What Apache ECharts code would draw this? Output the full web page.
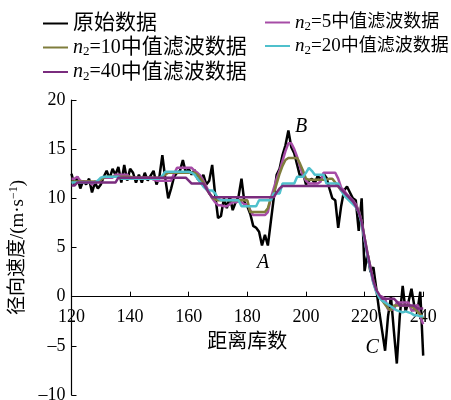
<!DOCTYPE html>
<html><head><meta charset="utf-8">
<script src="https://cdn.jsdelivr.net/npm/echarts@6/dist/echarts.min.js"></script>
<style>html,body{margin:0;padding:0;background:#fff}#c{width:451px;height:400px}</style>
</head><body><div id="c"></div>
<script>
const gates = [120,121,122,123,124,125,126,127,128,129,130,131,132,133,134,135,136,137,138,139,
140,141,142,143,144,145,146,147,148,149,150,151,152,153,154,155,156,157,158,159,
160,161,162,163,164,165,166,167,168,169,170,171,172,173,174,175,176,177,178,179,
180,181,182,183,184,185,186,187,188,189,190,191,192,193,194,195,196,197,198,199,
200,201,202,203,204,205,206,207,208,209,210,211,212,213,214,215,216,217,218,219,
220,221,222,223,224,225,226,227,228,229,230,231,232,233,234,235,236,237,238,239,240];

const rawData = [12.5,11.3,12.2,11.0,11.8,11.4,12.0,10.6,11.6,11.0,
11.4,12.2,12.8,12.0,13.0,12.4,13.2,11.6,13.4,11.8,
13.0,12.6,11.6,12.4,11.6,12.6,11.8,12.3,12.8,11.4,
12.2,14.4,12.0,10.0,11.0,12.2,12.6,12.8,13.9,12.6,
13.0,12.4,12.9,12.0,11.7,12.4,11.4,11.8,13.4,10.4,
8.0,8.2,10.0,9.0,10.2,8.8,9.6,10.2,12.0,9.6,
9.2,8.4,7.2,7.0,6.6,5.2,6.3,5.2,7.6,10.0,
12.4,13.0,14.4,15.4,16.9,15.2,14.6,13.4,12.2,12.6,
11.4,11.8,12.0,11.5,12.3,11.9,12.5,12.1,11.0,10.0,
9.8,7.0,9.2,10.8,11.2,10.6,10.0,9.8,6.7,10.0,
2.6,4.4,2.5,3.0,0.8,-1.5,-3.5,-5.5,-2.0,0.0,
-3.5,-6.8,-2.0,1.1,-1.5,-0.5,0.8,-1.0,-1.5,0.5,-6.0];

const n5Data = [12.0,12.0,12.2,11.8,11.7,11.7,11.7,11.4,11.7,11.7,
11.9,12.1,12.1,12.1,12.1,12.4,12.4,12.4,12.4,12.4,
12.1,12.1,12.1,12.1,12.1,12.1,12.1,12.1,11.9,11.8,
11.8,11.8,11.8,11.8,11.8,12.5,13.1,13.1,13.1,13.1,
13.1,13.1,12.8,12.6,12.3,11.8,11.2,10.6,10.0,9.6,
9.3,9.3,9.2,9.2,9.4,9.6,9.6,9.7,9.6,9.4,
9.4,8.8,8.3,8.3,8.3,8.3,8.3,8.6,10.0,11.0,
12.0,12.8,13.8,14.8,15.6,15.6,15.0,14.2,13.2,12.3,
11.8,11.5,11.5,11.5,11.5,11.7,12.6,12.6,12.6,12.6,
12.6,12.0,11.1,10.8,10.4,10.1,9.8,9.4,8.8,7.6,
5.8,4.2,2.8,1.4,0.5,0.1,0.0,-0.2,-1.3,-1.3,
-1.3,-0.6,-0.6,-0.6,-0.6,-0.6,-1.4,-1.4,-0.8,-2.0,-2.8];

const n10Data = [11.7,11.7,11.7,11.7,11.7,11.7,11.7,11.7,11.7,11.7,
11.9,12.1,12.2,12.2,12.2,12.2,12.2,12.2,12.2,12.2,
12.2,12.1,12.1,12.1,12.1,12.1,12.1,12.1,12.1,12.1,
12.1,12.2,12.4,12.6,12.6,12.6,12.6,12.6,12.6,12.6,
12.6,12.6,12.6,12.4,12.0,11.6,11.0,10.5,10.1,9.9,
9.8,9.8,9.8,9.8,9.8,9.8,9.8,9.8,9.8,9.8,
9.8,8.6,8.6,8.6,8.6,8.6,8.6,9.0,10.0,10.5,
11.5,12.5,13.3,13.9,14.1,14.1,14.1,14.1,13.5,12.8,
12.0,11.9,11.9,11.9,11.9,11.9,11.9,11.9,12.0,12.0,
11.6,11.2,10.8,10.5,10.2,9.9,9.6,9.2,8.7,7.6,
6.0,4.4,3.0,1.6,0.6,0.0,-0.4,-0.8,-1.2,-1.4,
-0.9,-0.9,-0.9,-0.9,-0.9,-0.9,-1.0,-1.2,-1.5,-1.8,-2.2];

const n20Data = [11.6,11.6,11.6,11.6,11.6,11.6,11.6,11.6,11.6,11.8,
12.1,12.2,12.2,12.2,12.2,12.2,12.2,12.0,12.0,12.0,
12.0,12.0,12.0,12.0,12.0,12.0,12.0,12.0,12.0,12.0,
12.0,12.3,12.7,12.7,12.7,12.7,12.7,12.7,12.7,12.7,
12.7,12.6,12.4,12.0,11.6,11.2,10.9,10.8,10.8,10.5,
10.0,9.8,9.8,9.8,9.8,9.8,9.8,9.8,9.2,9.2,
9.2,9.2,9.2,9.2,9.8,9.8,9.8,9.8,9.8,10.5,
10.5,10.5,11.5,11.5,11.5,11.5,11.5,12.2,12.2,12.2,
12.6,13.1,12.8,12.4,12.4,12.4,12.4,11.5,11.5,11.5,
11.5,11.5,10.8,10.3,10.0,9.7,9.4,9.1,8.6,7.4,
5.8,4.2,2.8,1.4,0.5,-0.1,-0.4,-0.6,-0.8,-1.0,
-1.2,-1.4,-1.5,-1.6,-1.5,-1.6,-1.7,-1.9,-1.9,-2.0,-2.0];

const n40Data = [11.3,11.3,11.6,11.6,11.6,11.6,11.6,11.6,11.6,11.6,
11.6,11.6,11.6,11.6,11.6,11.6,12.1,12.1,12.1,12.1,
12.1,12.1,12.1,12.1,12.1,12.1,12.1,12.1,12.1,12.1,
12.1,12.1,12.1,12.1,12.1,12.1,12.1,12.1,12.1,12.1,
11.8,11.5,11.5,11.5,11.5,11.5,11.0,10.5,10.1,10.1,
10.1,10.1,10.1,10.1,10.1,10.1,10.1,10.1,10.1,10.1,
10.1,10.1,10.1,10.1,10.1,10.1,10.1,10.1,10.1,10.1,
10.6,11.0,11.26,11.26,11.26,11.26,11.26,11.26,11.26,11.26,
11.26,11.26,11.26,11.26,11.26,11.26,11.26,11.26,11.26,11.26,
11.26,11.26,10.9,10.6,10.3,10.0,9.7,9.2,8.6,7.6,
6.0,4.4,3.0,1.6,0.7,0.2,-0.2,-0.2,-0.2,-0.2,
-0.2,-0.5,-0.9,-0.9,-0.9,-0.9,-0.9,-0.9,-1.2,-1.2,-1.2];

const seriesNames = ['原始数据','n2=5中值滤波数据','n2=10中值滤波数据','n2=20中值滤波数据','n2=40中值滤波数据'];
const seriesColors = ['#000000','#A64CA6','#7F7D3C','#4FC0CC','#7A2C7E'];
const xTicks = {min:120, max:240, interval:20};
const yTicks = {min:-10, max:20, interval:5};
const annotations = [
  {label:'A', gate:185.4, value:3.4},
  {label:'B', gate:198.3, value:17.3},
  {label:'C', gate:222.6, value:-5.2}
];

const serif = '"Liberation Serif","Times New Roman","Noto Sans CJK SC",serif';
const mixed = '"Liberation Serif","Noto Sans CJK SC",serif';

function pairs(arr){ return gates.map((g,i)=>[g,arr[i]]); }
const allData = [rawData,n5Data,n10Data,n20Data,n40Data];

const W = 451, H = 400;
const gridBox = {left:71.5, right:27.8, top:100, bottom:5};
const gridH = H - gridBox.top - gridBox.bottom;
// x axis sits on the y = 0 line
const xAxisOffset = -gridH * (0 - yTicks.min) / (yTicks.max - yTicks.min);

function makeRich(cjk, lat){
  return {
    t:{fontSize:cjk,fontFamily:mixed,color:'#000',lineHeight:22},
    l:{fontSize:lat,fontFamily:serif,color:'#000',lineHeight:22},
    i:{fontSize:lat,fontFamily:serif,fontStyle:'italic',color:'#000',lineHeight:22},
    s:{fontSize:13,fontFamily:serif,color:'#000',lineHeight:10,verticalAlign:'bottom'}
  };
}
function legendFmt(name){
  if(name.indexOf('n2')===0){
    const rest = name.slice(2);
    const m = rest.match(/^(=\d+)(.*)$/);
    return '{i|n}{s|2}{l|'+m[1]+'}{t|'+m[2]+'}';
  }
  return '{t|'+name+'}';
}
const legendBase = {
  orient:'vertical', itemGap:3, itemWidth:25, itemHeight:2, icon:'rect',
  formatter:legendFmt, selectedMode:false, padding:0
};

const chart = echarts.init(document.getElementById('c'), null, {renderer:'canvas'});
chart.setOption({
  animation:false,
  backgroundColor:'#fff',
  grid:Object.assign({outerBoundsMode:'none', containLabel:false}, gridBox),
  legend:[
    Object.assign({}, legendBase, {left:43, top:13, textStyle:{rich:makeRich(21,20), fontSize:20},
      data:[seriesNames[0],seriesNames[2],seriesNames[4]]}),
    Object.assign({}, legendBase, {left:265, top:13, textStyle:{rich:makeRich(18,19), fontSize:19},
      data:[seriesNames[1],seriesNames[3]]})
  ],
  xAxis:{
    type:'value', min:xTicks.min, max:xTicks.max, interval:xTicks.interval,
    position:'bottom', offset:xAxisOffset,
    name:'距离库数', nameLocation:'middle', nameGap:36,
    nameTextStyle:{fontSize:20, fontFamily:mixed, color:'#000'},
    axisLine:{onZero:false, lineStyle:{color:'#000', width:1.2}},
    axisTick:{inside:true, length:5, lineStyle:{color:'#000'}},
    axisLabel:{fontSize:18, fontFamily:serif, color:'#000', margin:12},
    splitLine:{show:false}
  },
  yAxis:{
    type:'value', min:yTicks.min, max:yTicks.max, interval:yTicks.interval,
    name:'{a|径向速度/(m·s}{b|−1}{a|)}', nameLocation:'middle', nameGap:33, nameRotate:90,
    nameTextStyle:{rich:{
      a:{fontSize:19, fontFamily:mixed, color:'#000', lineHeight:20},
      b:{fontSize:12, fontFamily:serif, color:'#000', lineHeight:10, verticalAlign:'top'}
    }},
    axisLine:{show:true, onZero:false, lineStyle:{color:'#000', width:1.2}},
    axisTick:{show:true, inside:true, length:5, lineStyle:{color:'#000'}},
    axisLabel:{fontSize:18, fontFamily:serif, color:'#000', margin:6,
      formatter:v=> (v<0 ? '–'+Math.abs(v) : String(v))},
    splitLine:{show:false}
  },
  series: seriesNames.map((nm,k)=>({
    name:nm, type:'line', data:pairs(allData[k]), showSymbol:false, symbol:'none',
    lineStyle:{color:seriesColors[k], width:2.5}, itemStyle:{color:seriesColors[k]},
    z: k===0 ? 2 : 3,
    markPoint: k===0 ? {
      symbol:'circle', symbolSize:1, itemStyle:{color:'rgba(0,0,0,0)'},
      label:{show:true, position:'inside', formatter:p=>p.name, fontSize:20,
        fontFamily:serif, fontStyle:'italic', color:'#000'},
      data: annotations.map(a=>({name:a.label, coord:[a.gate,a.value]}))
    } : undefined
  }))
});
</script></body></html>
